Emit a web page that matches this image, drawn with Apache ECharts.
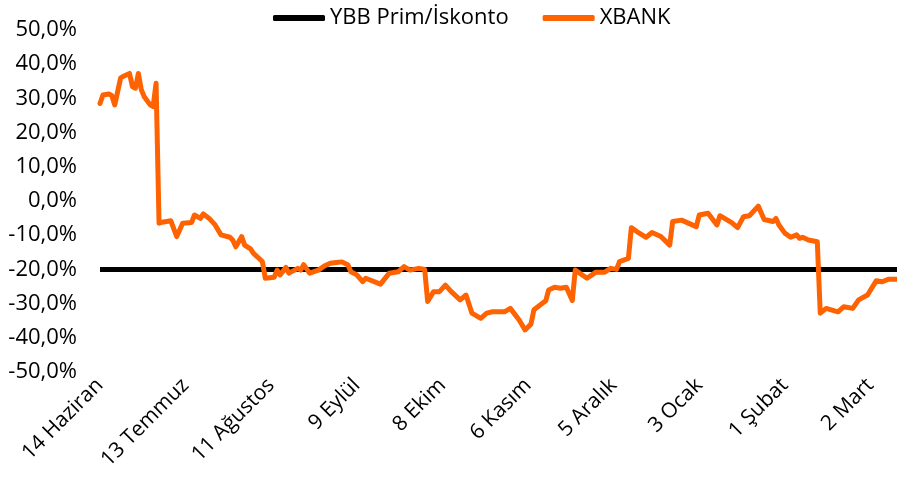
<!DOCTYPE html>
<html>
<head>
<meta charset="utf-8">
<script src="https://cdn.jsdelivr.net/npm/echarts@6/dist/echarts.min.js"></script>
<style>
html, body { margin: 0; padding: 0; background: #fff; }
#main { width: 897px; height: 481px; }
</style>
</head>
<body>
<div id="main"></div>
<script>
// x ekseni: 14 Haziran'dan itibaren gün sayısı, etiket her 29 günde bir
var tickLabels = ['14 Haziran', '13 Temmuz', '11 Ağustos', '9 Eylül', '8 Ekim',
                  '6 Kasım', '5 Aralık', '3 Ocak', '1 Şubat', '2 Mart'];
var tickStep = 29;
var dayCount = 271;

// YBB prim/iskonto seviyesi
var ybbLevel = -20;

// XBANK: gün (14 Haziran = 0) ve değer (%)
var xbankDays = [0, 1, 3, 4, 5, 7, 8, 10, 11, 12, 13, 14, 15, 17, 18, 19,
    20, 21, 24, 26, 28, 31, 32, 34, 35, 37, 39, 41, 44, 45, 46, 48, 49, 51, 52, 55,
    56, 59, 60, 61, 63, 64, 67, 68, 69, 71, 74, 76, 78, 80, 82, 84, 85, 87, 89, 90,
    95, 98, 101, 103, 105, 108, 110, 111, 113, 115, 117, 119, 122, 124, 126, 129, 131, 133, 137, 139,
    142, 144, 146, 147, 151, 152, 154, 156, 158, 160, 161, 165, 168, 171, 173, 175, 176, 179, 180, 182,
    185, 187, 190, 193, 194, 197, 202, 203, 206, 209, 210, 214, 216, 218, 220, 223, 225, 228, 229, 230,
    232, 234, 236, 237, 238, 240, 243, 244, 246, 250, 252, 255, 257, 260, 263, 265, 267, 270];
var xbankValues = [28.5, 31, 31.3, 30.8, 28.1, 36.0, 36.5, 37.3, 33.4, 33, 37.3, 32.5, 30.5, 28.1, 27.6, 34.4,
    -6.5, -6.2, -5.8, -10.4, -6.5, -6.3, -4.1, -5.1, -3.8, -5.1, -7, -9.9, -10.6, -11.5, -13.4, -10.4, -12.9, -14, -15.3, -17.7,
    -22.6, -22.3, -20.2, -21.6, -19.4, -21.1, -19.7, -20.2, -18.6, -21.1, -20.2, -19, -18.2, -18, -17.8, -18.7, -20.7, -21.6, -23.6, -22.6,
    -24.3, -21.1, -20.7, -19.2, -20.2, -19.7, -20, -29.4, -26.5, -26.5, -24.6, -26.5, -28.9, -27.5, -32.8, -34.3, -32.8, -32.4, -32.4, -31.4,
    -34.8, -37.7, -36.0, -31.8, -29.2, -26, -25.2, -25.5, -25.2, -29.1, -20.2, -22.6, -20.8, -20.8, -19.7, -20, -17.7, -16.8, -7.8, -9,
    -10.6, -9.2, -10.4, -12.9, -6, -5.6, -7.5, -4.1, -3.6, -7, -4.3, -6.3, -7.8, -4.6, -4.3, -1.5, -5.4, -6, -5.1, -7,
    -9.4, -10.6, -9.9, -10.9, -10.6, -11.4, -11.9, -32.8, -31.4, -32.4, -30.9, -31.4, -28.9, -27.5, -23.3, -23.6, -22.9, -22.9];

var categories = [];
for (var i = 0; i < dayCount; i++) {
    categories.push(i % tickStep === 0 ? tickLabels[i / tickStep] : '');
}

var xbankData = [];
for (var k = 0; k < xbankDays.length; k++) {
    xbankData.push([xbankDays[k], xbankValues[k]]);
}

var fontName = '"Open Sans", sans-serif';

var myChart = echarts.init(document.getElementById('main'), null, { renderer: 'canvas' });

var option = {
    animation: false,
    backgroundColor: '#fff',
    legend: {
        left: 268,
        top: 2,
        itemWidth: 52,
        itemHeight: 6,
        itemGap: 34,
        icon: 'roundRect',
        textStyle: { fontFamily: fontName, fontSize: 22, color: '#000', padding: [0, 0, 0, 0] },
        data: ['YBB Prim/İskonto', 'XBANK']
    },
    grid: {
        left: 100,
        right: 0,
        top: 30,
        bottom: 109,
        containLabel: false
    },
    xAxis: {
        type: 'category',
        data: categories,
        boundaryGap: false,
        axisLine: { show: false },
        axisTick: { show: false },
        splitLine: { show: false },
        axisLabel: {
            interval: function (index) { return index % tickStep === 0; },
            rotate: 45,
            margin: 10,
            fontFamily: fontName,
            fontSize: 21,
            color: '#000'
        }
    },
    yAxis: {
        type: 'value',
        min: -50,
        max: 50,
        interval: 10,
        axisLine: { show: false },
        axisTick: { show: false },
        splitLine: { show: false },
        axisLabel: {
            margin: 23,
            fontFamily: fontName,
            fontSize: 22,
            color: '#000',
            formatter: function (v) { return v.toFixed(1).replace('.', ',') + '%'; }
        }
    },
    series: [
        {
            name: 'YBB Prim/İskonto',
            type: 'line',
            data: [[0, ybbLevel], [dayCount - 1, ybbLevel]],
            showSymbol: false,
            symbol: 'none',
            color: '#000',
            lineStyle: { width: 5, color: '#000' }
        },
        {
            name: 'XBANK',
            type: 'line',
            data: xbankData,
            showSymbol: false,
            symbol: 'none',
            color: '#ff6200',
            lineStyle: { width: 5, color: '#ff6200', join: 'round', cap: 'round' }
        }
    ]
};

myChart.setOption(option);
</script>
</body>
</html>
